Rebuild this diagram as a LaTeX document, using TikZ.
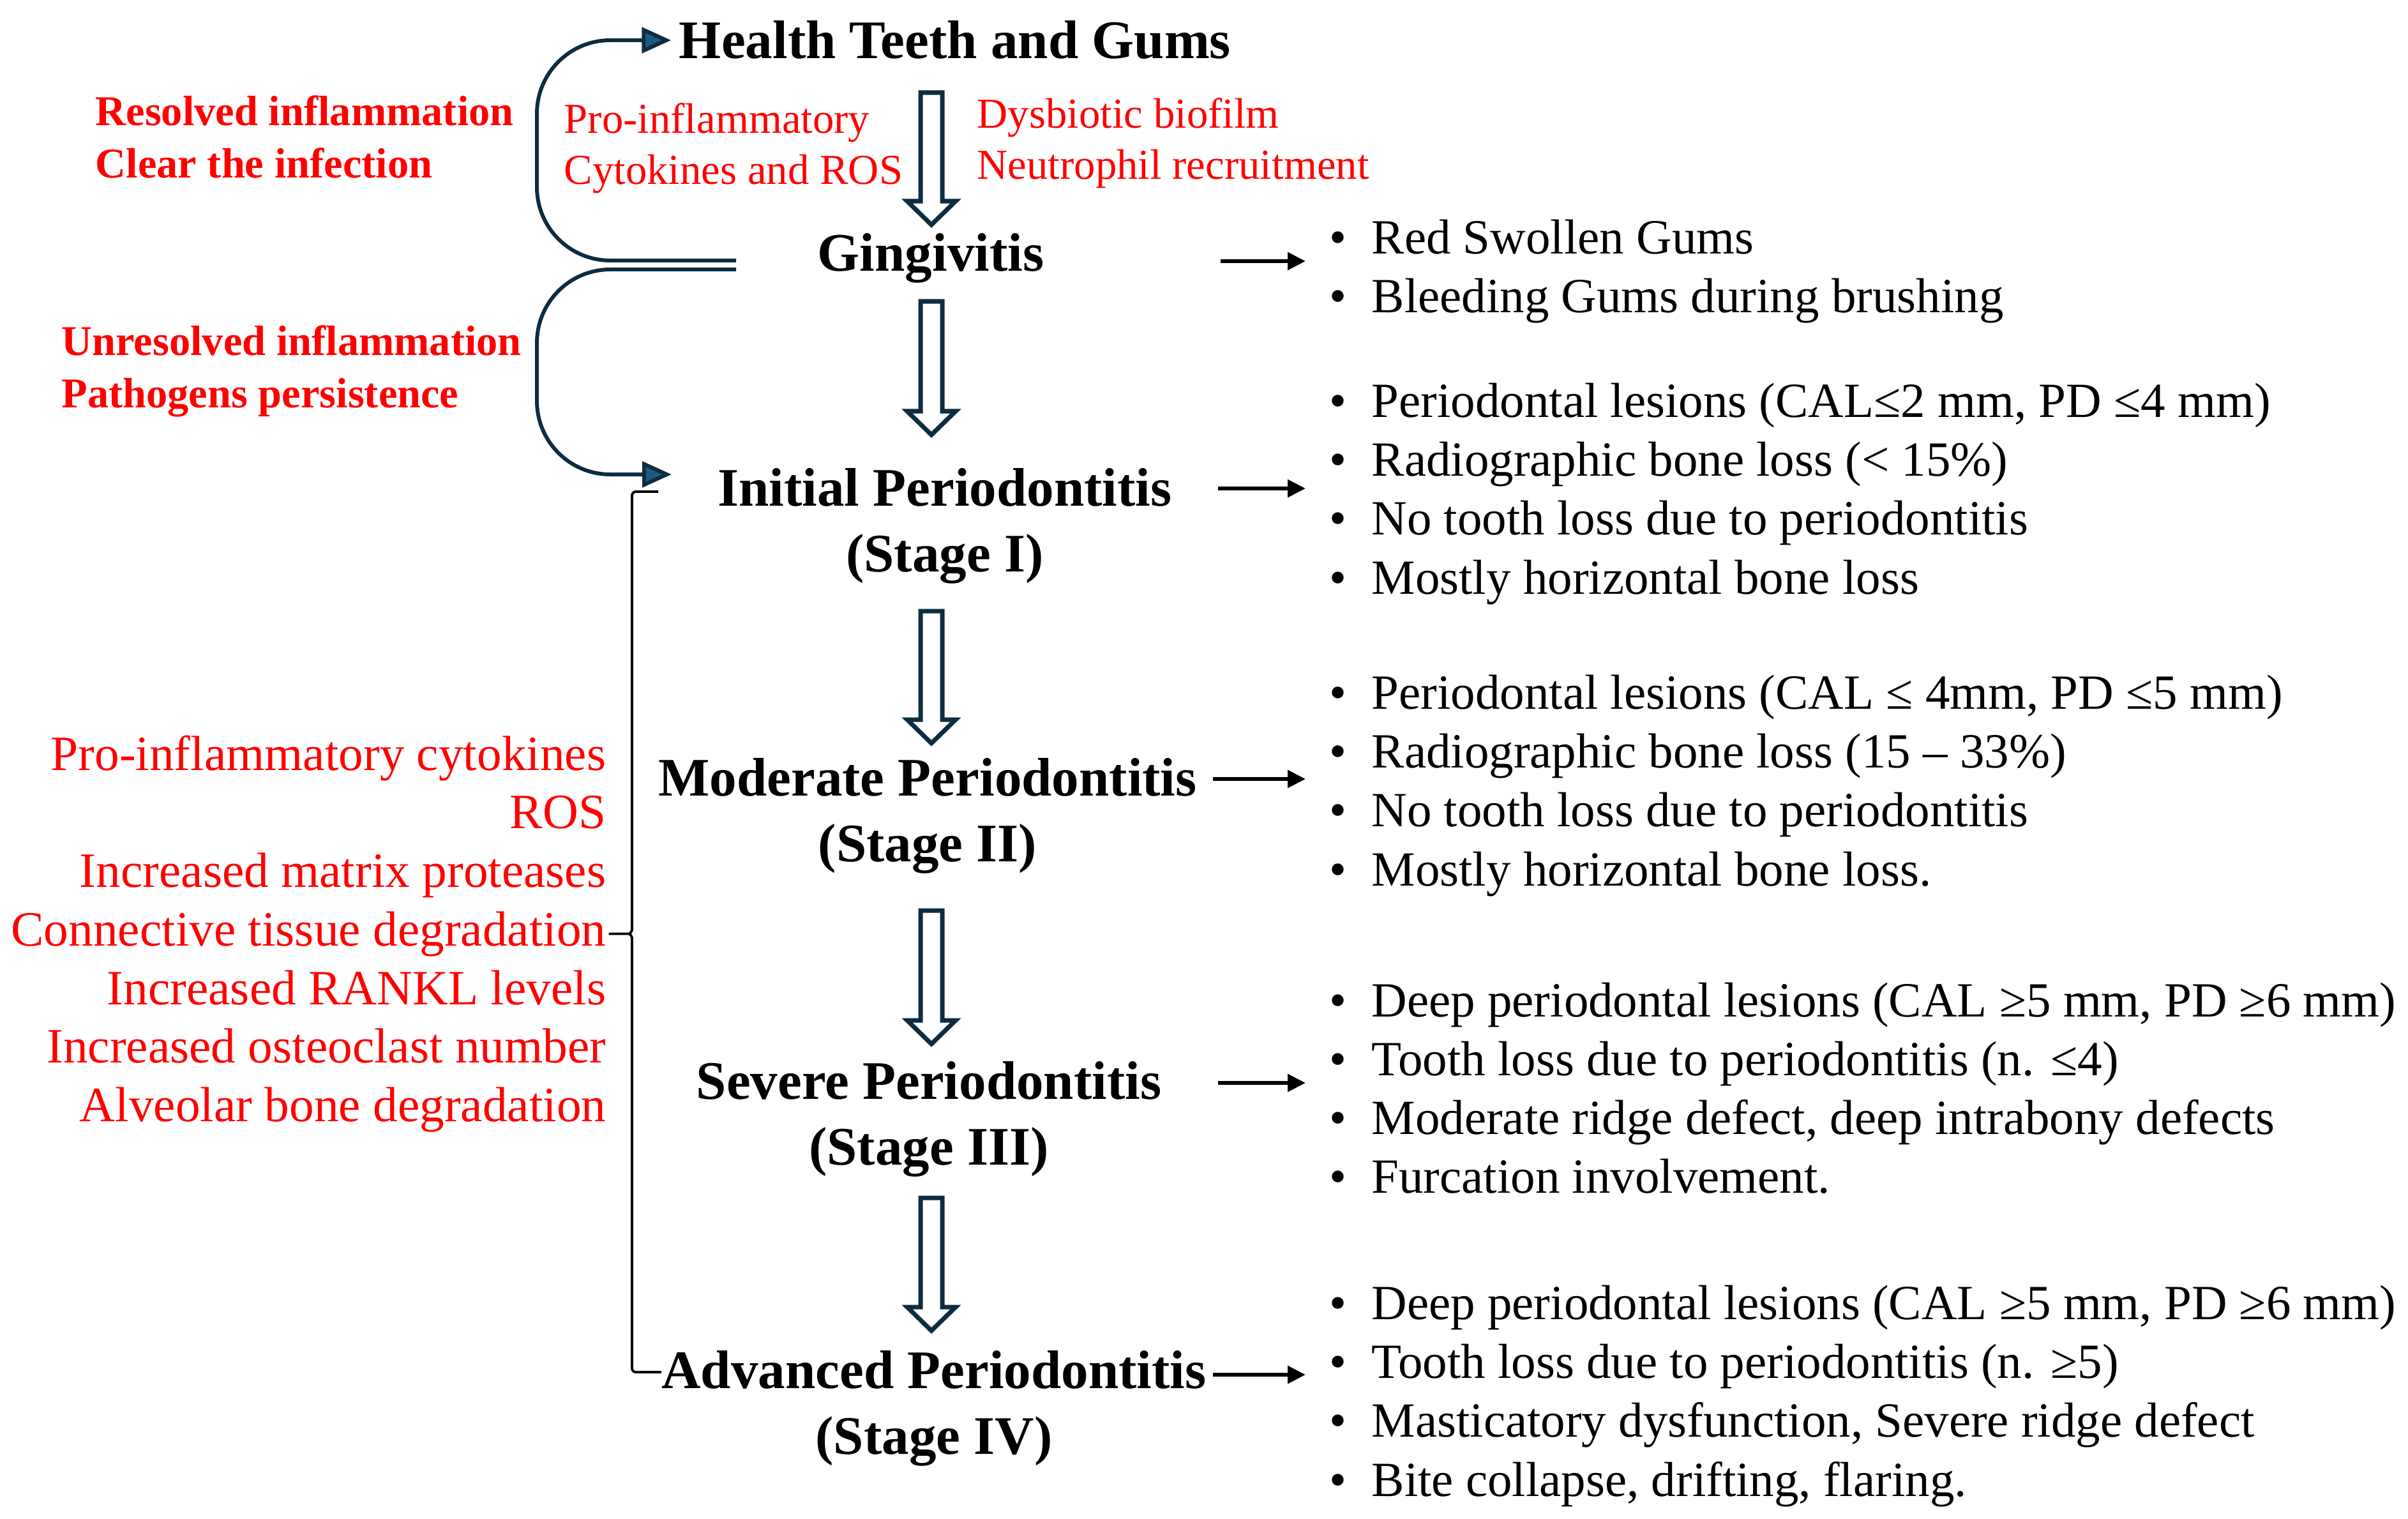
\documentclass[tikz,border=0pt]{standalone}
\usepackage{fontspec}
\setmainfont{Liberation Serif}
\usetikzlibrary{arrows.meta,calc,positioning}
\definecolor{navy}{HTML}{0E2C40}
\definecolor{tealblue}{HTML}{1B5C80}
\newcommand{\colx}{14.59cm}
\newcommand{\bul}[1]{\makebox[0.66cm][l]{\textbullet}#1}

\tikzset{
  stage/.style={font=\bfseries\fontsize{24.2}{29.3}\selectfont, align=center, inner sep=0pt},
  redbold/.style={font=\bfseries\fontsize{18.9}{23.3}\selectfont, text=red, align=left, inner sep=0pt, anchor=west},
  redtxt/.style={font=\fontsize{19}{22.6}\selectfont, text=red, align=left, inner sep=0pt, anchor=west},
  redlist/.style={font=\fontsize{22}{26.1}\selectfont, text=red, align=right, inner sep=0pt, anchor=east},
  bullets/.style={font=\fontsize{21.9}{26.2}\selectfont, align=left, inner sep=0pt, anchor=west},
  sidearrow/.style={line width=1.7pt, shorten >=3.7mm, -{Triangle[length=2.8mm,width=2.7mm]}},
  feedback/.style={draw=navy, line width=1.7pt, rounded corners=1.15cm,
    -{Triangle[length=4.6mm,width=4.0mm,fill=tealblue]}},
  brk/.style={line width=1.1pt, rounded corners=0.6mm},
  hollow/.style={draw=navy, line width=2pt, fill=white,
    to path={let \p1=(\tikztostart), \p2=(\tikztotarget) in
      ({\colx-0.17cm},\y1) -- ({\colx+0.17cm},\y1) -- ({\colx+0.17cm},{\y2+0.37cm})
      -- ({\colx+0.38cm},{\y2+0.37cm}) -- (\colx,\y2) -- ({\colx-0.38cm},{\y2+0.37cm})
      -- ({\colx-0.17cm},{\y2+0.37cm}) -- cycle}}
}

\begin{document}
\begin{tikzpicture}
\useasboundingbox (0,0) rectangle (37.72,-23.78);

% Stages
\node[stage] (health) at (14.96,-0.63) {Health Teeth and Gums};
\node[stage] (ging) at (14.58,-4.04) {Gingivitis};
\node[stage] (init) at (14.80,-8.235) {Initial Periodontitis\\(Stage I)};
\node[stage] (mod) at (14.53,-12.775) {Moderate Periodontitis\\(Stage II)};
\node[stage] (sev) at (14.55,-17.525) {Severe Periodontitis\\(Stage III)};
\node[stage] (adv) at (14.63,-22.06) {Advanced Periodontitis\\(Stage IV)};

\draw[hollow] ([yshift=-8.2mm]health.center) to ([yshift=5.2mm]ging.center);
\draw[hollow] ([yshift=-6.8mm]ging.center) to ([yshift=14.25mm]init.center);
\draw[hollow] ([yshift=-13.35mm]init.center) to ([yshift=11.35mm]mod.center);
\draw[hollow] ([yshift=-14.85mm]mod.center) to ([yshift=11.75mm]sev.center);
\draw[hollow] ([yshift=-12.35mm]sev.center) to ([yshift=12.2mm]adv.center);

% Red labels
\node[redbold] (resolved) at (1.49,-2.14) {Resolved inflammation\\Clear the infection};
\node[redbold] (unresolved) at (0.96,-5.81) {Unresolved inflammation\\Pathogens persistence};
\node[redtxt] (cyto) at (8.83,-2.32) {Pro-inflammatory\\Cytokines and ROS};
\node[redtxt] (dysb) at (15.30,-2.24) {Dysbiotic biofilm\\Neutrophil recruitment};
\node[redlist] (mech) at (9.50,-14.625) {Pro-inflammatory cytokines\\ROS\\Increased matrix proteases\\Connective tissue degradation\\Increased RANKL levels\\Increased osteoclast number\\Alveolar bone degradation};

% Feedback curves
\coordinate (itip) at (10.52,-7.43);
\draw[feedback] (11.53,-4.08) -- (8.41,-4.08) |- ([xshift=-1.2mm]health.west);
\draw[feedback] (11.53,-4.22) -- (8.41,-4.22) |- (itip);

% Bracket
\coordinate (btop) at (10.31,-7.70);
\draw[brk] (btop) -- (9.90,-7.70) -- (9.90,-14.50)
  .. controls (9.90,-14.59) and (9.86,-14.625) .. (9.80,-14.625) -- (mech.east)
  -- (9.80,-14.625) .. controls (9.86,-14.625) and (9.90,-14.66) .. (9.90,-14.75)
  |- ([yshift=5.7mm]adv.west);

% Clinical signs
\node[bullets] (glist) at (20.82,-4.255) {\bul{Red Swollen Gums}\\\bul{Bleeding Gums during brushing}};
\node[bullets] (ilist) at (20.82,-7.735) {\bul{Periodontal lesions (CAL≤2 mm, PD ≤4 mm)}\\\bul{Radiographic bone loss (< 15\%)}\\\bul{No tooth loss due to periodontitis}\\\bul{Mostly horizontal bone loss}};
\node[bullets] (mlist) at (20.82,-12.305) {\bul{Periodontal lesions (CAL ≤ 4mm, PD ≤5 mm)}\\\bul{Radiographic bone loss (15 – 33\%)}\\\bul{No tooth loss due to periodontitis}\\\bul{Mostly horizontal bone loss.}};
\node[bullets] (slist) at (20.82,-17.04) {\bul{Deep periodontal lesions (CAL ≥5 mm, PD ≥6 mm)}\\\bul{Tooth loss due to periodontitis (n. ≤4)}\\\bul{Moderate ridge defect, deep intrabony defects}\\\bul{Furcation involvement.}};
\node[bullets] (alist) at (20.82,-21.865) {\bul{Deep periodontal lesions (CAL ≥5 mm, PD ≥6 mm)}\\\bul{Tooth loss due to periodontitis (n. ≥5)}\\\bul{Masticatory dysfunction, Severe ridge defect}\\\bul{Bite collapse, drifting, flaring.}};

\coordinate (ga) at (19.12,-4.09);
\coordinate (ia) at (19.08,-7.65);
\coordinate (ma) at (19.00,-12.20);
\coordinate (sa) at (19.08,-16.96);
\coordinate (aa) at (19.00,-21.53);
\foreach \a/\l in {ga/glist, ia/ilist, ma/mlist, sa/slist, aa/alist}
  \draw[sidearrow] (\a) -- (\a -| \l.west);
\end{tikzpicture}
\end{document}
